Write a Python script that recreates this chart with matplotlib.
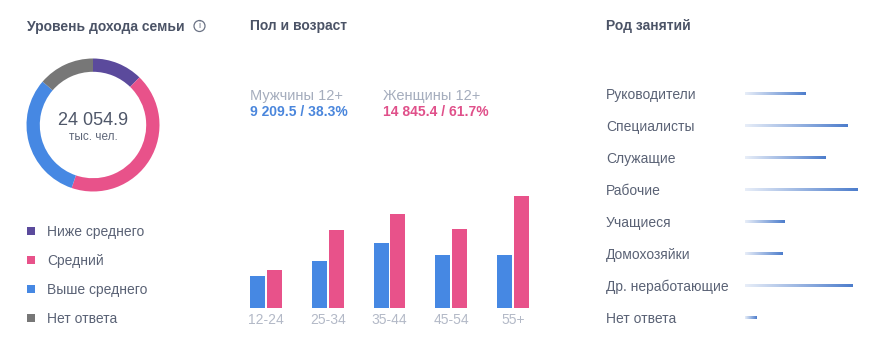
import matplotlib
matplotlib.use("Agg")
import matplotlib.pyplot as plt
import numpy as np
from matplotlib.colors import LinearSegmentedColormap
from matplotlib.patches import Ellipse, Rectangle

plt.rcParams['font.family'] = ['Liberation Sans', 'DejaVu Sans']

# ---------------- data ----------------
income_labels = ["Ниже среднего", "Средний", "Выше среднего", "Нет ответа"]
income_values = [2960, 10320, 7480, 3295]          # тыс. чел.
income_colors = ["#5b4a9c", "#e8528a", "#4688e3", "#777777"]
income_total = "24 054.9"

age_groups = ["12-24", "25-34", "35-44", "45-54", "55+"]
men_values = [1175, 1731, 2398, 1953, 1953]
women_values = [1390, 2900, 3465, 2938, 4154]
men_summary = "9 209.5 / 38.3%"
women_summary = "14 845.4 / 61.7%"

occupations = ["Руководители", "Специалисты", "Служащие", "Рабочие",
               "Учащиеся", "Домохозяйки", "Др. неработающие", "Нет ответа"]
occupation_share = [11.0, 18.6, 14.5, 20.4, 7.2, 6.7, 19.5, 2.0]

W, H = 889, 345
fig = plt.figure(figsize=(W / 100, H / 100), dpi=100)
fig.patch.set_facecolor("white")


def fx(x):
    return x / W


def fy(y):
    return 1 - y / H


def axes_px(left, top, width, height):
    return fig.add_axes([fx(left), fy(top + height), width / W, height / H])


TITLE = "#4b5366"
TEXT = "#5a6275"
MUTED = "#a5adbd"

# ---------------- titles ----------------
fig.text(fx(27), fy(31), "Уровень дохода семьи", fontsize=10, fontweight="bold",
         color=TITLE, va="baseline", ha="left")
fig.add_artist(Ellipse((fx(199.5), fy(26)), 11 / W, 11 / H, fill=False,
                       edgecolor="#6a7284", linewidth=0.9))
fig.text(fx(199.5), fy(26), "i", fontsize=6.5, color="#6a7284", ha="center", va="center")
fig.text(fx(250), fy(30), "Пол и возраст", fontsize=10, fontweight="bold",
         color=TITLE, va="baseline", ha="left")
fig.text(fx(606), fy(30), "Род занятий", fontsize=10, fontweight="bold",
         color=TITLE, va="baseline", ha="left")

# ---------------- donut ----------------
R = 66.5
axd = axes_px(93 - R, 125 - R, 2 * R, 2 * R)
axd.pie(income_values, colors=income_colors, startangle=90, counterclock=False,
        radius=1.0, wedgeprops=dict(width=0.2, linewidth=0))
axd.set_xlim(-1, 1)
axd.set_ylim(-1, 1)
axd.set_aspect("equal")
axd.axis("off")
fig.text(fx(93), fy(125), income_total, fontsize=13, color="#4f5769",
         ha="center", va="baseline")
fig.text(fx(93), fy(140), "тыс. чел.", fontsize=8.5, color="#5f6779",
         ha="center", va="baseline")

# legend
for i, (lab, col) in enumerate(zip(income_labels, income_colors)):
    yc = 231 + 29 * i
    fig.add_artist(Rectangle((fx(27), fy(yc + 4)), 8 / W, 8 / H, facecolor=col,
                             edgecolor="none"))
    fig.text(fx(47), fy(yc + 5), lab, fontsize=10, color=TEXT, va="baseline", ha="left")

# ---------------- gender / age bars ----------------
fig.text(fx(250), fy(100), "Мужчины 12+", fontsize=10.5, color=MUTED, va="baseline")
fig.text(fx(250), fy(116), men_summary, fontsize=10, fontweight="bold",
         color="#4a86dc", va="baseline")
fig.text(fx(383), fy(100), "Женщины 12+", fontsize=10.5, color=MUTED, va="baseline")
fig.text(fx(383), fy(116), women_summary, fontsize=10, fontweight="bold",
         color="#e0508a", va="baseline")

px_per_unit = 61.75
left_px, right_px = 235, 545
top_px, base_px = 180, 308
axb = axes_px(left_px, top_px, right_px - left_px, base_px - top_px)
x = np.arange(len(age_groups))
bw = 15 / px_per_unit
off = 8.3 / px_per_unit
axb.bar(x - off, men_values, width=bw, color="#4688e3", linewidth=0)
axb.bar(x + off, women_values, width=bw, color="#e8528a", linewidth=0)
axb.set_xlim(-(266 - left_px) / px_per_unit, (right_px - 266) / px_per_unit)
axb.set_ylim(0, (base_px - top_px) * 37.0)
axb.axis("off")
for i, g in enumerate(age_groups):
    xc = 266 + i * px_per_unit
    fig.text(fx(xc), fy(324), g, fontsize=10, color="#b3b9c7", ha="center", va="baseline")

# ---------------- occupation gradient lines ----------------
occ_left, occ_right = 745, 870
occ_top = 94 - 16
occ_h = 32 * len(occupations)
axo = axes_px(occ_left, occ_top, occ_right - occ_left, occ_h)
cmap = LinearSegmentedColormap.from_list("g", ["#e8eef8", "#4d7dcc"])
grad = np.linspace(0, 1, 256).reshape(1, -1)
half = 1.5 / 32
for i, v in enumerate(occupation_share):
    axo.imshow(grad, cmap=cmap, aspect="auto", extent=(0, v, i + half, i - half),
               interpolation="bilinear")
axo.set_xlim(0, (occ_right - occ_left) / 5.53)
axo.set_ylim(len(occupations) - 0.5, -0.5)
axo.axis("off")
for i, lab in enumerate(occupations):
    fig.text(fx(606), fy(99.3 + 31.9 * i), lab, fontsize=10, color=TEXT,
             va="baseline", ha="left")

fig.savefig("out.png", dpi=100, facecolor="white")
